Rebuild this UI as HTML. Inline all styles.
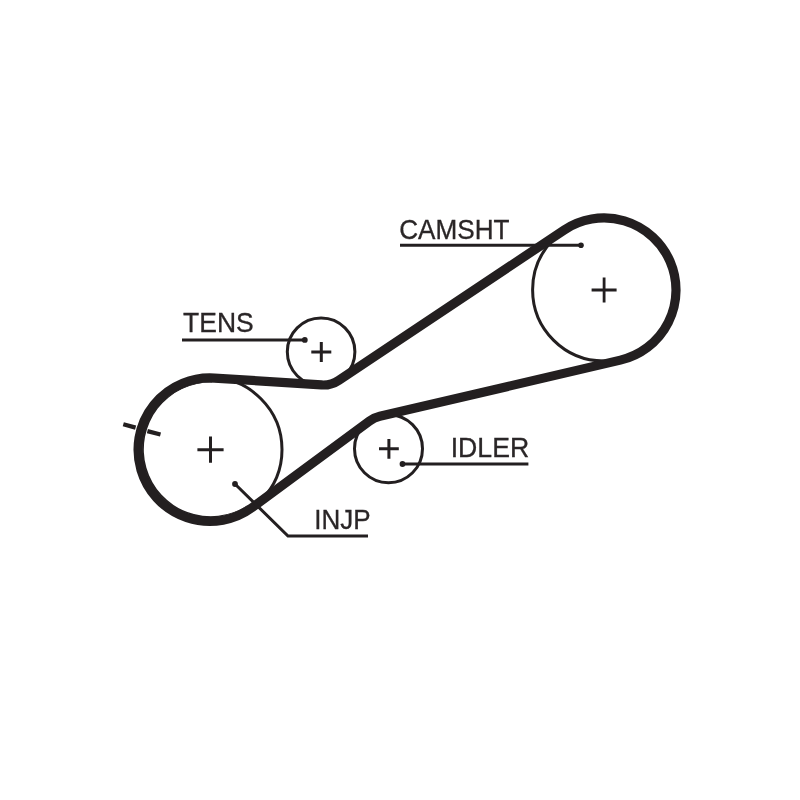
<!DOCTYPE html><html><head><meta charset="utf-8"><title>Timing belt diagram</title>
<style>html,body{margin:0;padding:0;background:#fff}svg{display:block;will-change:transform}text{font-family:"Liberation Sans",sans-serif;fill:#2a2627;stroke:#2a2627;stroke-width:.3px}</style></head><body>
<svg width="800" height="800" viewBox="0 0 800 800">
<rect width="800" height="800" fill="#fff"/>
<circle cx="603.8" cy="289.8" r="71.2" fill="none" stroke="#231f20" stroke-width="3"/>
<circle cx="210" cy="449.6" r="72" fill="none" stroke="#231f20" stroke-width="3"/>
<circle cx="321.1" cy="351.8" r="33.8" fill="none" stroke="#231f20" stroke-width="3"/>
<circle cx="388.5" cy="448.7" r="34" fill="none" stroke="#231f20" stroke-width="3"/>
<path d="M620.38 360.11 L379.80 416.33 A28.00 28.00 0 0 0 369.56 421.06 L252.42 507.40 A71.75 71.75 0 1 1 214.47 378.05 L321.40 384.94 A28.00 28.00 0 0 0 338.73 380.30 L564.06 230.09 A72.00 72.00 0 1 1 620.38 360.11 Z" fill="none" stroke="#231f20" stroke-width="9.2" stroke-linejoin="round"/>
<path d="M247.74 505.82A67.75 67.75 0 1 1 212.21 381.94L212.19 382.54A66.88 66.88 0 1 0 247.40 505.32Z" fill="#231f20"/>
<path d="M591.6 290.0H616.6M604.1 277.5V302.5" stroke="#231f20" stroke-width="2.8" fill="none"/>
<path d="M197.4 449.7H223.6M210.5 436.6V462.8" stroke="#231f20" stroke-width="3" fill="none"/>
<path d="M311.3 352.0H331.3M321.3 342.0V362.0" stroke="#231f20" stroke-width="3" fill="none"/>
<path d="M379.0 448.8H398.8M388.9 438.9V458.7" stroke="#231f20" stroke-width="3" fill="none"/>
<path d="M123.3 424.2L135.6 427.6M147.4 431.2L160.5 434.5" stroke="#231f20" stroke-width="4.3" fill="none"/>
<path d="M400 245.3H581" stroke="#231f20" stroke-width="3" fill="none" stroke-linejoin="miter"/>
<circle cx="581" cy="245.3" r="2.8" fill="#231f20"/>
<path d="M182 340H304.5" stroke="#231f20" stroke-width="3" fill="none" stroke-linejoin="miter"/>
<circle cx="304.8" cy="339.9" r="2.9" fill="#231f20"/>
<path d="M402.5 464H528.4" stroke="#231f20" stroke-width="3" fill="none" stroke-linejoin="miter"/>
<circle cx="402.5" cy="464" r="2.9" fill="#231f20"/>
<path d="M235 484L288 536H368" stroke="#231f20" stroke-width="3" fill="none" stroke-linejoin="miter"/>
<circle cx="235" cy="484" r="2.9" fill="#231f20"/>
<text transform="translate(399.2 238.6) scale(1.005 1.08)" font-size="26">CAMSHT</text>
<text transform="translate(183.1 332.2) scale(1.018 1.08)" font-size="26">TENS</text>
<text transform="translate(450.7 457.0) scale(1.026 1.08)" font-size="26">IDLER</text>
<text transform="translate(314.3 529) scale(1 1.08)" font-size="26">INJP</text>
</svg></body></html>
